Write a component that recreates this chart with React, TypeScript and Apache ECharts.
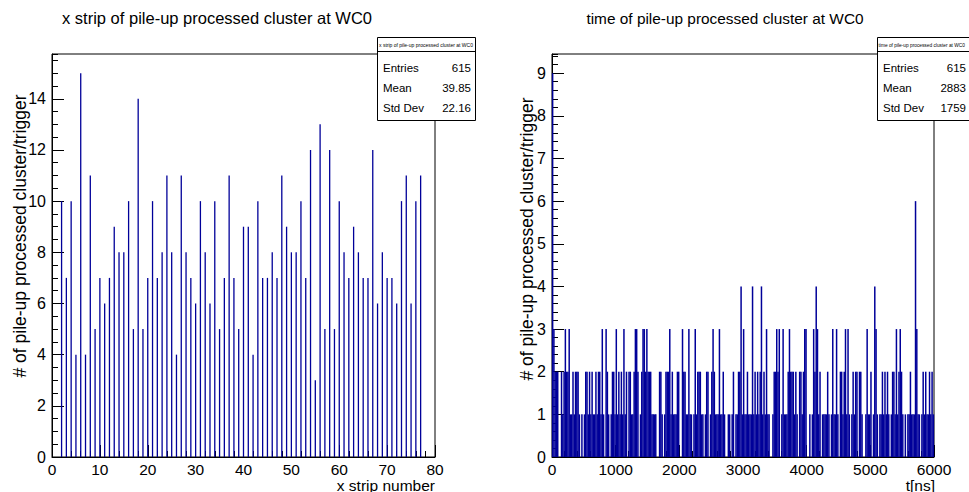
import React, { useEffect, useRef } from "react";
import * as echarts from "echarts";

// ---------- data ----------
const leftTitle = "x strip of pile-up processed cluster at WC0";
const rightTitle = "time of pile-up processed cluster at WC0";
const yTitle = "# of pile-up processed cluster/trigger";
const leftXTitle = "x strip number";
const rightXTitle = "t[ns]";

const stripNumbers = [
  2, 3, 4, 5, 6, 7, 8, 9, 10, 11, 12, 13, 14, 15, 16, 17, 18, 19, 20, 21, 22, 23, 24, 25, 26,
  27, 28, 29, 30, 31, 32, 33, 34, 35, 36, 37, 38, 39, 40, 41, 42, 43, 44, 45, 46, 47, 48, 49,
  50, 51, 52, 53, 54, 55, 56, 57, 58, 59, 60, 61, 62, 63, 64, 65, 66, 67, 68, 69, 70, 71, 72,
  73, 74, 75, 76, 77,
];
const stripCounts = [
  10, 7, 10, 4, 15, 4, 11, 5, 7, 6, 7, 9, 8, 8, 10, 5, 14, 5, 7, 10, 7, 8, 11, 8, 4,
  11, 8, 7, 6, 10, 8, 6, 10, 5, 7, 11, 7, 5, 9, 9, 4, 10, 7, 7, 8, 7, 11, 9,
  8, 8, 10, 7, 12, 3, 13, 5, 12, 5, 10, 8, 7, 9, 8, 7, 7, 12, 6, 8, 7, 7, 6,
  10, 11, 6, 10, 11,
];

// time histogram: 20 ns bins from 0 to 6000 ns
const timeBinWidth = 20;
const timeCounts = [
  9, 3, 2, 2, 2, 0, 0, 2, 1, 2, 3, 2, 2, 3, 1, 1, 2, 1, 2, 2,
  2, 1, 0, 1, 0, 1, 2, 2, 1, 2, 1, 2, 1, 1, 2, 1, 2, 2, 1, 3,
  1, 0, 3, 2, 1, 0, 1, 2, 2, 1, 3, 1, 2, 1, 2, 1, 3, 1, 2, 0,
  2, 2, 1, 1, 2, 3, 3, 2, 0, 1, 2, 3, 3, 2, 3, 2, 2, 2, 1, 1,
  1, 1, 0, 0, 2, 2, 1, 0, 1, 2, 2, 2, 3, 1, 2, 1, 1, 1, 2, 2,
  0, 0, 3, 2, 2, 1, 1, 3, 1, 1, 0, 1, 3, 1, 2, 2, 2, 1, 1, 0,
  1, 2, 2, 0, 1, 2, 3, 2, 1, 1, 1, 3, 1, 1, 2, 1, 0, 0, 1, 1,
  0, 1, 2, 0, 1, 1, 2, 2, 4, 1, 3, 1, 1, 2, 1, 1, 1, 4, 1, 2,
  1, 2, 1, 2, 4, 1, 2, 1, 3, 1, 1, 0, 0, 1, 2, 2, 3, 2, 3, 0,
  1, 3, 1, 1, 1, 2, 3, 2, 2, 2, 1, 2, 1, 0, 2, 2, 1, 2, 3, 3,
  0, 0, 1, 0, 1, 3, 2, 4, 3, 1, 2, 0, 1, 1, 1, 1, 2, 1, 0, 1,
  3, 1, 1, 3, 1, 0, 2, 2, 1, 2, 3, 1, 3, 1, 0, 1, 2, 1, 2, 2,
  0, 2, 2, 1, 0, 0, 1, 3, 1, 1, 2, 0, 1, 4, 3, 1, 0, 1, 1, 2,
  1, 2, 1, 2, 1, 0, 1, 2, 2, 1, 3, 1, 2, 3, 2, 1, 0, 1, 0, 1,
  1, 2, 1, 1, 1, 6, 3, 1, 1, 0, 1, 2, 1, 2, 1, 1, 2, 1, 2, 1,
];

const statsLabels = ["Entries", "Mean", "Std Dev"];
const leftStatsValues = ["615", "39.85", "22.16"];
const rightStatsValues = ["615", "2883", "1759"];

// ---------- styling ----------
const FONT = "'Liberation Sans', Arial, Helvetica, sans-serif";
const HIST = "#000099";
const plainNumber = (v: number) => String(v);

function mainX(grid: number, min: number, max: number, interval: number) {
  return {
    gridIndex: grid, type: "value", min, max, interval,
    axisLine: { show: true, onZero: false, lineStyle: { color: "#000", width: 1 } },
    axisTick: { show: true, inside: true, length: 12, lineStyle: { color: "#000", width: 1 } },
    axisLabel: { show: true, margin: 4, fontSize: 15.5, color: "#000", fontFamily: FONT, formatter: plainNumber },
    splitLine: { show: false },
  };
}
function minorX(grid: number, min: number, max: number, interval: number) {
  return {
    gridIndex: grid, type: "value", min, max, interval, position: "bottom",
    axisLine: { show: false },
    axisTick: { show: true, inside: true, length: 6, lineStyle: { color: "#000", width: 1 } },
    axisLabel: { show: false },
    splitLine: { show: false },
  };
}
function mainY(grid: number, min: number, max: number, interval: number) {
  return {
    gridIndex: grid, type: "value", min, max, interval, position: "left",
    axisLine: { show: true, onZero: false, lineStyle: { color: "#000", width: 1 } },
    axisTick: { show: true, inside: true, length: 12, lineStyle: { color: "#000", width: 1 } },
    axisLabel: { show: true, margin: 6, fontSize: 16, color: "#000", fontFamily: FONT, showMaxLabel: false, formatter: plainNumber },
    splitLine: { show: false },
  };
}
function minorY(grid: number, min: number, max: number, interval: number) {
  return {
    gridIndex: grid, type: "value", min, max, interval, position: "left", offset: 0,
    axisLine: { show: false },
    axisTick: { show: true, inside: true, length: 6, lineStyle: { color: "#000", width: 1 } },
    axisLabel: { show: false },
    splitLine: { show: false },
  };
}

function statsBox(x: number, w: number, title: string, values: string[], valueRight: number, titleAlignLeft: boolean) {
  const top = 37;
  const sep = 51;
  const bottom = 120;
  const rows = [68, 88, 108];
  const els: any[] = [
    {
      type: "rect", z: 100,
      shape: { x: x + 0.5, y: top + 0.5, width: w, height: bottom - top },
      style: { fill: "#fff", stroke: "#000", lineWidth: 1 },
    },
    {
      type: "line", z: 101,
      shape: { x1: x + 0.5, y1: sep + 0.5, x2: x + w + 0.5, y2: sep + 0.5 },
      style: { stroke: "#000", lineWidth: 1 },
    },
    {
      type: "text", z: 101, x: titleAlignLeft ? x + 1.5 : x + w / 2, y: (top + sep) / 2 + 1,
      style: {
        text: title, fontSize: titleAlignLeft ? 4.8 : 5, fontFamily: FONT, fill: "#000",
        align: titleAlignLeft ? "left" : "center", verticalAlign: "middle",
      },
    },
  ];
  statsLabels.forEach((lab, i) => {
    els.push({
      type: "text", z: 101, x: x + 6, y: rows[i],
      style: { text: lab, fontSize: 11.5, fontFamily: FONT, fill: "#000", align: "left", verticalAlign: "middle" },
    });
    els.push({
      type: "text", z: 101, x: valueRight, y: rows[i],
      style: { text: values[i], fontSize: 11.5, fontFamily: FONT, fill: "#000", align: "right", verticalAlign: "middle" },
    });
  });
  return els;
}

export default function App() {
  const ref = useRef<HTMLDivElement>(null);
  useEffect(() => {
    if (!ref.current) return;
    const chart = echarts.init(ref.current, undefined, { renderer: "svg" });
    const leftData = stripNumbers.map((s, i) => [s, stripCounts[i]]);
    const rightData = timeCounts.map((c, i) => [i * timeBinWidth + timeBinWidth / 2, c]);

    const graphics: any[] = [
      {
        type: "text", x: 217, y: 18,
        style: { text: leftTitle, fontSize: 16.5, fontFamily: FONT, fill: "#000", align: "center", verticalAlign: "middle" },
      },
      {
        type: "text", x: 725, y: 18,
        style: { text: rightTitle, fontSize: 15.4, fontFamily: FONT, fill: "#000", align: "center", verticalAlign: "middle" },
      },
      {
        type: "text", x: 20, y: 236, rotation: Math.PI / 2,
        style: { text: yTitle, fontSize: 17.5, fontFamily: FONT, fill: "#000", align: "center", verticalAlign: "middle" },
      },
      {
        type: "text", x: 527, y: 239, rotation: Math.PI / 2,
        style: { text: yTitle, fontSize: 17.5, fontFamily: FONT, fill: "#000", align: "center", verticalAlign: "middle" },
      },
      {
        type: "text", x: 435, y: 485,
        style: { text: leftXTitle, fontSize: 15.5, fontFamily: FONT, fill: "#000", align: "right", verticalAlign: "middle" },
      },
      {
        type: "text", x: 935, y: 485,
        style: { text: rightXTitle, fontSize: 15.5, fontFamily: FONT, fill: "#000", align: "right", verticalAlign: "middle" },
      },
      ...statsBox(377, 98, leftTitle, leftStatsValues, 471, false),
      ...statsBox(877, 100, rightTitle, rightStatsValues, 966, true),
    ];

    chart.setOption({
      animation: false,
      backgroundColor: "#fff",
      grid: [
        { left: 52, top: 54, width: 383, height: 403, show: true, borderColor: "#000", borderWidth: 1, backgroundColor: "transparent" },
        { left: 552, top: 54, width: 382, height: 403, show: true, borderColor: "#000", borderWidth: 1, backgroundColor: "transparent" },
      ],
      xAxis: [
        mainX(0, 0, 80, 10),
        minorX(0, 0, 80, 2),
        mainX(1, 0, 6000, 1000),
        minorX(1, 0, 6000, 200),
      ],
      yAxis: [
        mainY(0, 0, 15.75, 2),
        minorY(0, 0, 15.75, 0.5),
        mainY(1, 0, 9.45, 1),
        minorY(1, 0, 9.45, 0.2),
      ],
      series: [
        {
          type: "bar", xAxisIndex: 0, yAxisIndex: 0, data: leftData, barWidth: 1.3,
          itemStyle: { color: HIST }, silent: true,
        },
        {
          type: "bar", xAxisIndex: 2, yAxisIndex: 2, data: rightData, barWidth: 1.5,
          itemStyle: { color: HIST }, silent: true,
        },
      ],
      graphic: graphics,
    });
    return () => chart.dispose();
  }, []);
  return (
    <div
      ref={ref}
      style={{ position: "absolute", left: 0, top: 0, width: 969, height: 492, background: "#fff" }}
    />
  );
}
